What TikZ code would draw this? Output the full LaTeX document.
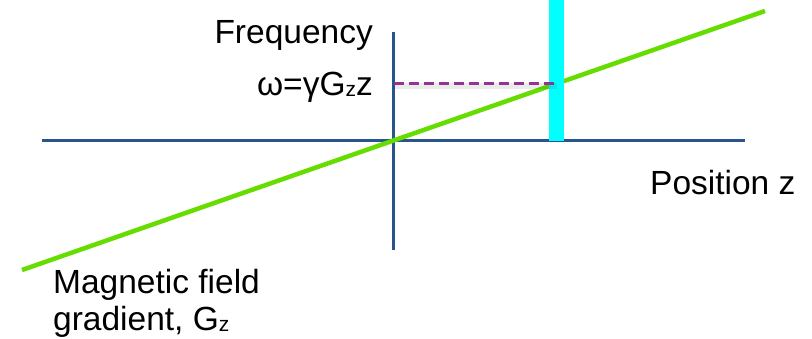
\documentclass[tikz,border=0pt]{standalone}
\usepackage{fontspec}
\setmainfont{Liberation Sans}
\definecolor{axisblue}{RGB}{40,86,140}
\definecolor{fieldgreen}{RGB}{102,221,0}
\definecolor{barcyan}{RGB}{0,255,255}
\definecolor{dashpurple}{RGB}{150,50,150}
\begin{document}
\begin{tikzpicture}[x=1pt,y=-1pt,
  axis/.style={draw=axisblue,line width=3pt},
  field/.style={draw=fieldgreen,line width=4.5pt},
  lbl/.style={inner sep=0pt,font=\fontsize{33.5}{40}\selectfont},
  guide/.style={draw=dashpurple,line width=3pt,dash pattern=on 10pt off 5pt}]
\useasboundingbox (0,0) rectangle (812,338);
% axes
\coordinate (hL) at (42,140);
\coordinate (hR) at (745,140);
\coordinate (vT) at (393,32);
\coordinate (vB) at (393,250);
\coordinate (O) at (393,140);
\draw[axis] (hL) -- (hR);
\draw[axis] (vT) -- (vB);
% gradient line
\coordinate (gL) at (22,270);
\coordinate (gR) at (765,11);
\draw[field] (gL) -- (gR);
% cyan slice
\fill[barcyan] (549,0) rectangle (564,141);
% dashed guide with faint shadow
\coordinate (dL) at (394,83);
\coordinate (dR) at (557,83);
\draw[black,opacity=0.08,line width=6pt] ([yshift=-3pt]dL) -- ([yshift=-3pt]dR);
\draw[guide] (dL) -- (dR);
% labels
\node[lbl,anchor=base east] (freq) at (373,43) {Frequency};
\node[lbl,anchor=base east] (omega) at (373,95) {ω=γG{\fontsize{21}{21}\selectfont\raisebox{-1pt}{z}}z};
\node[lbl,anchor=base west] (pos) at (650,194) {Position z};
\node[lbl,anchor=base west] (mag) at (53,293) {Magnetic field};
\node[lbl,anchor=base west] (grad) at (53,330) {gradient, G{\fontsize{21}{21}\selectfont\raisebox{-1pt}{z}}};
\end{tikzpicture}
\end{document}
